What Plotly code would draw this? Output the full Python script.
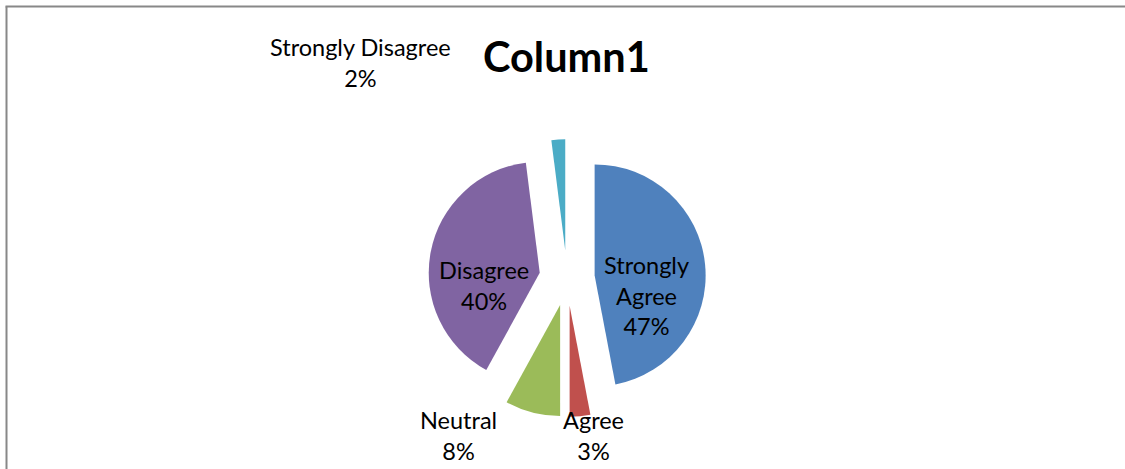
import plotly.graph_objects as go

W, H = 1125, 469

categories = ["Strongly Agree", "Agree", "Neutral", "Disagree", "Strongly Disagree"]
values = [47, 3, 8, 40, 2]
colors = ["#4F81BD", "#C0504D", "#9BBB59", "#8064A2", "#4BACC6"]
title_text = "Column1"

# pie geometry (pixels)
cx, cy, r, pull = 567, 278, 111, 0.25
half = r * (1 + pull)

fig = go.Figure(go.Pie(
    labels=categories, values=values, sort=False, direction="clockwise",
    rotation=0, pull=[pull] * len(values),
    marker=dict(colors=colors, line=dict(width=0)),
    textinfo="none", hoverinfo="label+percent", showlegend=False,
    domain=dict(x=[(cx - half) / W, (cx + half) / W],
                y=[(H - cy - half) / H, (H - cy + half) / H]),
))

# label positions (pixels, centre of text block)
label_pos = [(646, 295), (593, 435), (459, 435), (484, 285), (360, 63)]
total = sum(values)
annotations = []
for cat, v, (lx, ly) in zip(categories, values, label_pos):
    name = cat
    if cat == "Strongly Agree":
        name = "Strongly<br>Agree"
    txt = f"{name}<br>{round(100 * v / total)}%"
    annotations.append(dict(
        x=lx / W, y=1 - ly / H, xref="paper", yref="paper",
        text=txt, showarrow=False, xanchor="center", yanchor="middle",
        font=dict(family="Lato, Carlito, sans-serif", size=23.5, color="black"),
    ))
annotations.append(dict(
    x=566 / W, y=1 - 56 / H, xref="paper", yref="paper", text=f"<b>{title_text}</b>",
    showarrow=False, xanchor="center", yanchor="middle",
    font=dict(family="Lato, Carlito, sans-serif", size=41.5, color="black"),
))

shapes = [
    dict(type="line", xref="paper", yref="paper", x0=6.5 / W, x1=6.5 / W,
         y0=0, y1=1 - 6.5 / H, line=dict(color="#888888", width=2)),
    dict(type="line", xref="paper", yref="paper", x0=5.5 / W, x1=1,
         y0=1 - 6.5 / H, y1=1 - 6.5 / H, line=dict(color="#888888", width=2)),
]

fig.update_layout(
    width=W, height=H, margin=dict(l=0, r=0, t=0, b=0),
    paper_bgcolor="white", plot_bgcolor="white",
    annotations=annotations, shapes=shapes,
)

fig.write_html(
    "out.html",
    config={"displayModeBar": False},
    post_script="document.body.style.margin='0';document.body.style.overflow='hidden';",
)
